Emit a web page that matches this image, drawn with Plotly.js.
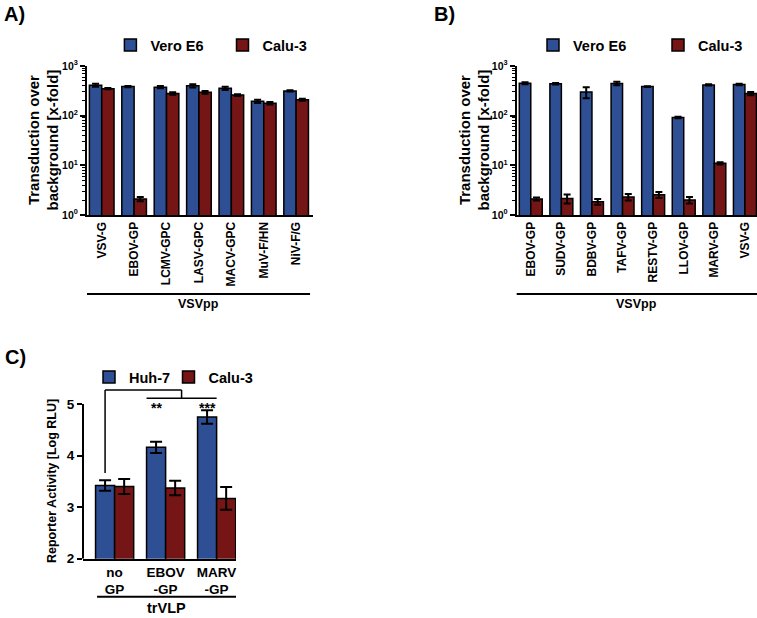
<!DOCTYPE html>
<html>
<head>
<meta charset="utf-8">
<script src="https://cdn.plot.ly/plotly-3.0.1.min.js"></script>
<style>html,body{margin:0;padding:0;background:#fff;}#chart{width:757px;height:618px;}</style>
</head>
<body>
<div id="chart"></div>
<script>
// ---- Data ----
const seriesNamesAB = ['Vero E6', 'Calu-3'];
const seriesNamesC = ['Huh-7', 'Calu-3'];

const catsA = ['VSV-G', 'EBOV-GP', 'LCMV-GPC', 'LASV-GPC', 'MACV-GPC', 'MuV-F/HN', 'NiV-F/G'];
const veroA = [410, 385, 375, 400, 355, 195, 315];
const veroAErr = [30, 10, 20, 30, 25, 15, 10];
const caluA = [350, 2.1, 280, 295, 260, 178, 210];
const caluAErr = [10, 0.2, 15, 20, 10, 10, 10];

const catsB = ['EBOV-GP', 'SUDV-GP', 'BDBV-GP', 'TAFV-GP', 'RESTV-GP', 'LLOV-GP', 'MARV-GP', 'VSV-G'];
const veroB = [450, 440, 300, 445, 385, 92, 415, 425];
const veroBErr = [20, 15, 75, 35, 8, 3, 12, 15];
const caluB = [2.1, 2.15, 1.85, 2.3, 2.55, 2.0, 11, 278];
const caluBErr = [0.15, 0.45, 0.25, 0.35, 0.35, 0.3, 0.6, 20];

const catsC = ['no<br>GP', 'EBOV<br>-GP', 'MARV<br>-GP'];
const huhC = [3.42, 4.16, 4.75];
const huhCErr = [0.1, 0.11, 0.13];
const caluC = [3.40, 3.37, 3.17];
const caluCErr = [0.145, 0.14, 0.22];

const logDecades = [0, 1, 2, 3];
const linTicksC = [2, 3, 4, 5];
const groupLabelAB = 'VSVpp';
const groupLabelC = 'trVLP';
const yTitleAB = 'Transduction over<br>background [x-fold]';
const yTitleC = 'Reporter Activity [Log RLU]';

// ---- Styling ----
const BLUE = '#2f4f94';
const RED = '#761515';
const FONT = 'Liberation Sans, Arial, Helvetica, sans-serif';
const W = 757, H = 618;
const px = v => v / W;
const py = v => 1 - v / H;

function barTrace(x, y, err, color, name, xa, ya, w, left, legend, capw) {
  return {
    type: 'bar', x: x, y: y, name: name, xaxis: xa, yaxis: ya,
    width: w, offset: left ? -w : 0,
    marker: {color: color, line: {color: '#000', width: 1.5}},
    error_y: {type: 'data', array: err, visible: true, color: '#000', thickness: 2, width: capw},
    legend: legend, showlegend: true
  };
}

const wA = 0.38, wB = 0.375, wC = 0.374;
const data = [
  barTrace(catsA, veroA, veroAErr, BLUE, seriesNamesAB[0], 'x', 'y', wA, true, 'legend', 3.5),
  barTrace(catsA, caluA, caluAErr, RED, seriesNamesAB[1], 'x', 'y', wA, false, 'legend2', 3.5),
  barTrace(catsB, veroB, veroBErr, BLUE, seriesNamesAB[0], 'x2', 'y2', wB, true, 'legend3', 3.5),
  barTrace(catsB, caluB, caluBErr, RED, seriesNamesAB[1], 'x2', 'y2', wB, false, 'legend4', 3.5),
  barTrace(catsC, huhC, huhCErr, BLUE, seriesNamesC[0], 'x3', 'y3', wC, true, 'legend5', 6),
  barTrace(catsC, caluC, caluCErr, RED, seriesNamesC[1], 'x3', 'y3', wC, false, 'legend6', 6)
];

const tickFont = {family: FONT, size: 12, color: '#000', weight: 'bold'};
const yTickFont = {family: FONT, size: 10.5, color: '#000', weight: 'bold'};
const legFont = {family: FONT, size: 14.5, color: '#000', weight: 'bold'};

function xCat(domain, range, cats, angle, font) {
  return {
    domain: domain, type: 'category', range: range, showline: true, linewidth: 2, linecolor: '#000',
    ticks: '', tickangle: angle, tickfont: font, showgrid: false, zeroline: false, fixedrange: true,
    categoryorder: 'array', categoryarray: cats
  };
}
function yLog(domain, anchor) {
  return {
    domain: domain, anchor: anchor, type: 'log', range: [0, 3],
    tickmode: 'array', tickvals: logDecades.map(d => Math.pow(10, d)),
    ticktext: logDecades.map(d => '10<sup>' + d + '</sup>'),
    showline: true, linewidth: 2, linecolor: '#000', ticks: 'outside', ticklen: 5, tickwidth: 2, tickcolor: '#000',
    minor: {ticks: 'outside', ticklen: 3, tickwidth: 1, tickcolor: '#000', dtick: 'D1', showgrid: false},
    tickfont: yTickFont, showgrid: false, zeroline: false, fixedrange: true
  };
}
function leg(boxCenterX, centerY) {
  return {orientation: 'h', x: px(boxCenterX - 14), xanchor: 'left', y: py(centerY), yanchor: 'middle',
          font: legFont, bgcolor: 'rgba(0,0,0,0)'};
}

const domYAB = [py(215), py(66)];
const layout = {
  width: W, height: H,
  margin: {l: 0, r: 0, t: 0, b: 0, autoexpand: false},
  paper_bgcolor: '#fff', plot_bgcolor: 'rgba(0,0,0,0)',
  font: {family: FONT, color: '#000'},
  barmode: 'overlay',
  xaxis: Object.assign(xCat([px(87), px(313)], [-0.454, 6.52], catsA, -90, tickFont), {anchor: 'y'}),
  yaxis: yLog(domYAB, 'x'),
  xaxis2: Object.assign(xCat([px(516.7), 1], [-0.46, 7.395], catsB, -90, tickFont), {anchor: 'y2'}),
  yaxis2: yLog(domYAB, 'x2'),
  xaxis3: Object.assign(xCat([px(83), px(236)], [-0.62, 2.38], catsC, 0,
           {family: FONT, size: 13.5, color: '#000', weight: 'bold'}), {anchor: 'y3'}),
  yaxis3: {
    domain: [py(558.7), py(386)], anchor: 'x3', range: [2, 5.35],
    tickmode: 'array', tickvals: linTicksC, showline: false,
    ticks: 'outside', ticklen: 5, tickwidth: 2, tickcolor: '#000',
    tickfont: {family: FONT, size: 13.5, color: '#000', weight: 'bold'},
    showgrid: false, zeroline: false, fixedrange: true
  },
  legend: leg(124.4, 45),
  legend2: leg(236.5, 45),
  legend3: leg(547, 45),
  legend4: leg(672, 45),
  legend5: leg(103, 377),
  legend6: leg(182.5, 377),
  shapes: [],
  annotations: []
};

// Panel labels
[['A)', 2, 14], ['B)', 432, 14], ['C)', 3, 357]].forEach(p => {
  layout.annotations.push({text: p[0], xref: 'paper', yref: 'paper', x: px(p[1]), y: py(p[2]),
    xanchor: 'left', yanchor: 'middle', showarrow: false,
    font: {family: FONT, size: 20, color: '#000', weight: 'bold'}});
});

// Y-axis titles (rotated)
[[yTitleAB, 43, 140.5, 15], [yTitleAB, 474, 140.5, 15], [yTitleC, 52, 481, 12.5]].forEach(t => {
  layout.annotations.push({text: t[0], xref: 'paper', yref: 'paper', x: px(t[1]), y: py(t[2]),
    xanchor: 'center', yanchor: 'middle', textangle: -90, showarrow: false,
    font: {family: FONT, size: t[3], color: '#000', weight: 'bold'}});
});

// Group lines + labels under x axes
function groupLine(xa, x0, x1, yLine, yText, label, size, anchor) {
  layout.shapes.push({type: 'line', xref: xa + ' domain', yref: 'paper', x0: x0, x1: x1,
    y0: py(yLine), y1: py(yLine), line: {color: '#000', width: 2}});
  layout.annotations.push({text: label, xref: xa + ' domain', yref: 'paper', x: (x0 + x1) / 2, y: py(yText),
    xanchor: 'center', yanchor: anchor, showarrow: false,
    font: {family: FONT, size: size, color: '#000', weight: 'bold'}});
}
groupLine('x', 0, 0.987, 294, 304, groupLabelAB, 12.5, 'middle');
groupLine('x2', 0, 1, 294, 304, groupLabelAB, 12.5, 'middle');
groupLine('x3', 0.092, 1, 596.7, 617.5, groupLabelC, 14.5, 'bottom');

// Panel C y-axis line (only up to 5)
layout.shapes.push({type: 'line', xref: 'x3 domain', yref: 'y3', x0: 0, x1: 0,
  y0: linTicksC[0], y1: linTicksC[linTicksC.length - 1], line: {color: '#000', width: 2}});

// Significance bracket in panel C
const blueCenter = i => i - wC / 2;
const yTop = 5.27, yLow = 5.11, yStart = 3.66;
const lowL = 1 - wC, lowR = 2;
const mid = (lowL + lowR) / 2;
const bl = {color: '#000', width: 1.5};
[[blueCenter(0), yStart, blueCenter(0), yTop], [blueCenter(0), yTop, mid, yTop],
 [mid, yTop, mid, yLow], [lowL, yLow, lowR, yLow]].forEach(s => {
  layout.shapes.push({type: 'line', xref: 'x3', yref: 'y3', x0: s[0], y0: s[1], x1: s[2], y1: s[3], line: bl});
});
[['**', 1], ['***', 2]].forEach(s => {
  layout.annotations.push({text: s[0], xref: 'x3', yref: 'y3', x: blueCenter(s[1]), y: 4.93,
    xanchor: 'center', yanchor: 'middle', showarrow: false,
    font: {family: FONT, size: 14, color: '#000', weight: 'bold'}});
});

Plotly.newPlot('chart', data, layout, {displayModeBar: false, staticPlot: true});
</script>
</body>
</html>
